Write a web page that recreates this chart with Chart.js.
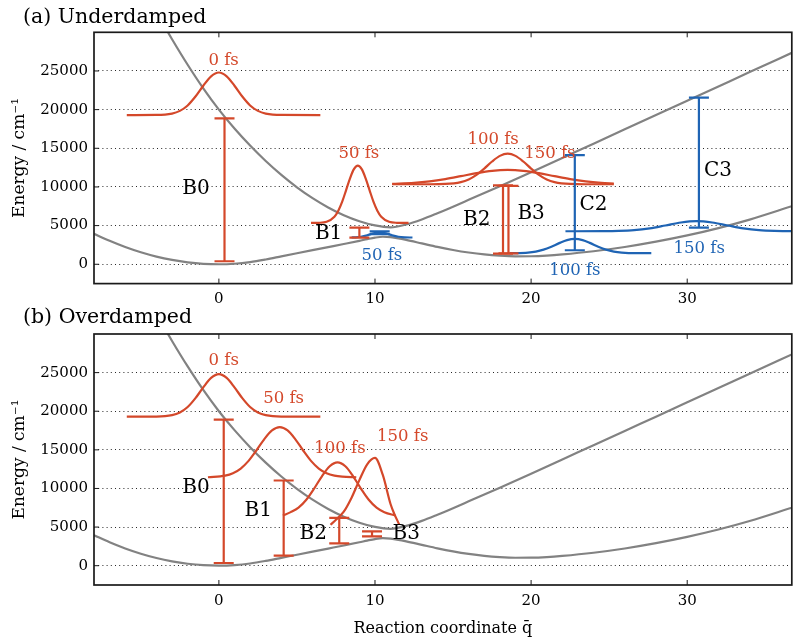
<!DOCTYPE html>
<html><head><meta charset="utf-8">
<script src="https://cdn.jsdelivr.net/npm/chart.js@4"></script>
<style>
html,body{margin:0;padding:0;background:#fff;width:804px;height:642px;overflow:hidden}
#ca{position:absolute;left:0;top:0}
#cb{position:absolute;left:0;top:300px}
</style></head><body>
<canvas id="ca" width="804" height="320"></canvas>
<canvas id="cb" width="804" height="342"></canvas>
<script>
// ---------- axes ----------
const X_MIN = -8, X_MAX = 36.7;
const Y_MIN = -2500, Y_MAX = 30000;
const xTicks = [0, 10, 20, 30];
const yTicks = [0, 5000, 10000, 15000, 20000, 25000];

// ---------- potential energy curves (q, E) ----------
const groundState = [[-8,3950],[-7,3030],[-6,2230],[-5,1550],[-4,990],[-3,560],[-2,250],[-1,62],[0,0],[1,70],[2,280],[3,620],[4,1020],[5,1420],[6,1820],[7,2220],[8,2620],[9,3030],[9.5,3250],[10,3450],[10.5,3560],[11,3500],[11.5,3350],[12,3150],[13,2700],[14,2250],[15,1850],[16,1520],[17,1270],[18,1110],[19,1030],[20,1040],[21,1120],[22,1270],[24,1680],[26,2230],[28,2920],[30,3730],[32,4680],[34,5780],[36.7,7500]];
const excitedState = [[-4,32600],[-3,29100],[-2,25800],[-1,22750],[0,20000],[1,17550],[2,15350],[3,13350],[4,11550],[5,9950],[6,8550],[7,7350],[8,6350],[9,5570],[10,5020],[11,4780],[12,5150],[13,5800],[14,6600],[15,7450],[16,8330],[18,10100],[20,11900],[22,13750],[24,15600],[26,17450],[28,19300],[30,21150],[32,23000],[34,24850],[36.7,27350]];

// ---------- panel (a) wave packets ----------
const a0fs = [[-5.9,19300],[-4,19310],[-3,19490],[-2.5,19840],[-2,20540],[-1.5,21690],[-1,23090],[-0.5,24310],[0,24800],[0.5,24310],[1,23090],[1.5,21690],[2,20540],[2.5,19840],[3,19490],[4,19310],[6.5,19300]];
const a50fsRed = [[5.9,5350],[6.4,5365],[6.9,5490],[7.4,6150],[7.65,6930],[7.9,8100],[8.15,9590],[8.4,11120],[8.65,12300],[8.9,12750],[9.15,12300],[9.4,11120],[9.65,9590],[9.9,8100],[10.15,6930],[10.4,6150],[10.9,5490],[11.4,5365],[12.15,5350]];
const a100fsRed = [[11.1,10350],[13.5,10350],[14.5,10385],[15.5,10630],[16,10970],[16.5,11560],[17,12380],[17.5,13290],[18,14020],[18.5,14300],[19,14020],[19.5,13290],[20,12380],[20.5,11560],[21,10970],[21.5,10630],[22.5,10385],[23.5,10350],[25.3,10350]];
const a150fsRed = [[11.1,10407],[12.5,10537],[13.5,10725],[14.5,11018],[15.5,11393],[16.5,11784],[17.5,12085],[18.5,12200],[19.5,12085],[20.5,11784],[21.5,11393],[22.5,11018],[23.5,10725],[24.5,10537],[25.3,10448]];
const a50fsBlue = [[8.5,3460],[8.7,3480],[9.1,3555],[9.5,3740],[9.9,4010],[10.3,4150],[10.7,4010],[11.1,3740],[11.5,3555],[11.9,3480],[12.4,3460]];
const a100fsBlue = [[18.65,1430],[19.8,1510],[20.3,1640],[20.8,1890],[21.3,2275],[21.8,2735],[22.3,3125],[22.8,3280],[23.3,3125],[23.8,2735],[24.3,2275],[24.8,1890],[25.3,1640],[25.8,1510],[26.8,1435],[27.7,1430]];
const a150fsBlue = [[22.2,4270],[24.6,4280],[25.6,4310],[26.6,4410],[27.6,4645],[28.6,5015],[29.6,5400],[30.6,5570],[31.6,5400],[32.6,5015],[33.6,4645],[34.6,4410],[35.6,4310],[36.7,4280]];

// ---------- panel (b) wave packets ----------
const b0fs = [[-5.9,19300],[-4,19310],[-3,19490],[-2.5,19840],[-2,20540],[-1.5,21690],[-1,23090],[-0.5,24310],[0,24800],[0.5,24310],[1,23090],[1.5,21690],[2,20540],[2.5,19840],[3,19490],[4,19310],[6.5,19300]];
const b50fs = [[-0.7,11450],[0.4,11665],[0.9,11975],[1.4,12580],[1.9,13575],[2.4,14915],[2.9,16365],[3.4,17515],[3.9,17950],[4.4,17515],[4.9,16365],[5.4,14915],[5.9,13575],[6.4,12580],[6.9,11975],[7.4,11665],[7.9,11525],[8.8,11450]];
const b100fs = [[4.1,6500],[4.6,6935],[5.1,7520],[5.6,8540],[6.1,9980],[6.6,11580],[7.1,12875],[7.6,13380],[8.1,12875],[8.6,11580],[9.1,9980],[9.6,8540],[10.1,7520],[10.6,6935],[11.3,6500]];
const b150fs = [[7.15,5300],[7.5,5960],[8.0,6990],[8.5,8800],[9.0,11080],[9.5,13120],[10.0,13950],[10.5,11750],[11.0,7960],[11.25,6650],[11.55,5350]];

// ---------- energy gaps (vertical bars) ----------
const aBarQ    = [0.36, 9.0, 10.3, 18.2, 18.55, 22.8, 30.75];
const aBarLow  = [390, 3450, 3900, 1380, 1400, 1810, 4750];
const aBarHigh = [18870, 4750, 4250, 10200, 10150, 14120, 21540];
const bBarQ    = [0.31, 4.15, 7.71, 9.81];
const bBarLow  = [350, 1300, 2900, 3800];
const bBarHigh = [18910, 11030, 6200, 4440];

// ---------- text labels ----------
const aLabelText = ['0 fs','50 fs','B0','B1','50 fs','100 fs','150 fs','B2','B3','C2','C3','100 fs','150 fs'];
const aLabelQ    = [0.3, 8.97, -1.47, 7.03, 10.44, 17.57, 21.2, 16.52, 20.0, 24.0, 31.97, 22.8, 30.77];
const aLabelE    = [26300, 14250, 9700, 3980, 1170, 16150, 14250, 5700, 6560, 7640, 12090, -870, 2030];
const bLabelText = ['0 fs','50 fs','100 fs','150 fs','B0','B1','B2','B3'];
const bLabelQ    = [0.31, 4.15, 7.76, 11.78, -1.47, 2.52, 6.04, 12.0];
const bLabelE    = [26550, 21630, 15150, 16750, 10060, 7170, 4100, 4100];

// ---------- styles ----------
const SERIF = "'DejaVu Serif', serif";
const RED = '#d4482a', BLUE = '#1f64b4', GRAY = '#828282', BLACK = '#000';
const LW = 2.2;
const aBarColor = [RED, RED, BLUE, RED, RED, BLUE, BLUE];
const bBarColor = [RED, RED, RED, RED];
const aLabelColor = [RED, RED, BLACK, BLACK, BLUE, RED, RED, BLACK, BLACK, BLACK, BLACK, BLUE, BLUE];
const bLabelColor = [RED, RED, RED, RED, BLACK, BLACK, BLACK, BLACK];

const pts = arr => arr.map(p => ({x: p[0], y: p[1]}));
function curve(arr, color, order) {
  return {data: pts(arr), showLine: true, borderColor: color, borderWidth: LW, pointRadius: 0,
          cubicInterpolationMode: 'monotone', fill: false, order: order};
}
function bars(qs, lo, hi, colors) {
  return qs.map((q, i) => ({
    data: [{x: q, y: lo[i]}, {x: q, y: hi[i]}], showLine: true, borderColor: colors[i], borderWidth: LW,
    pointStyle: 'line', pointRadius: 10, pointBorderWidth: LW, pointBorderColor: colors[i],
    pointBackgroundColor: colors[i], order: 1
  }));
}

function deco(title, titleY, texts, qs, es, colors) {
  return {
    id: 'deco',
    afterDatasetsDraw(chart) {
      const {ctx, chartArea: a, scales: {x, y}} = chart;
      ctx.save();
      ctx.strokeStyle = '#1a1a1a';
      ctx.lineWidth = 1;
      xTicks.forEach(v => {
        const px = x.getPixelForValue(v);
        ctx.beginPath();
        ctx.moveTo(px, a.bottom); ctx.lineTo(px, a.bottom - 5);
        ctx.moveTo(px, a.top); ctx.lineTo(px, a.top + 5);
        ctx.stroke();
      });
      yTicks.forEach(v => {
        const py = y.getPixelForValue(v);
        ctx.beginPath(); ctx.moveTo(a.left, py); ctx.lineTo(a.left + 5, py); ctx.stroke();
      });
      ctx.lineWidth = 1.7;
      ctx.strokeRect(a.left, a.top, a.right - a.left, a.bottom - a.top);
      ctx.textAlign = 'center'; ctx.textBaseline = 'middle';
      texts.forEach((t, i) => {
        ctx.font = (colors[i] === BLACK ? '20px ' : '16.5px ') + SERIF;
        ctx.fillStyle = colors[i];
        ctx.fillText(t, x.getPixelForValue(qs[i]), y.getPixelForValue(es[i]));
      });
      ctx.textAlign = 'left';
      ctx.font = '20.5px ' + SERIF; ctx.fillStyle = BLACK;
      ctx.fillText(title, 23, titleY);
      ctx.restore();
    }
  };
}

function makeChart(id, datasets, topPad, axisH, showXTitle, plugin) {
  return new Chart(document.getElementById(id), {
    type: 'scatter',
    data: {datasets: datasets},
    options: {
      responsive: false, animation: false, events: [],
      layout: {padding: {left: 0, right: 1, top: topPad, bottom: 0}},
      elements: {line: {capBezierPoints: false}},
      plugins: {legend: {display: false}, tooltip: {enabled: false}},
      scales: {
        x: {
          type: 'linear', min: X_MIN, max: X_MAX,
          afterBuildTicks: s => { s.ticks = xTicks.map(v => ({value: v})); },
          afterFit: s => { s.height = axisH; },
          grid: {display: false, drawTicks: false},
          border: {display: false},
          ticks: {padding: 7, color: BLACK, font: {family: SERIF, size: 15}, callback: v => String(v)},
          title: {display: showXTitle, text: 'Reaction coordinate q\u0304', color: BLACK,
                  font: {family: SERIF, size: 16}, padding: {top: 0, bottom: 4}}
        },
        y: {
          type: 'linear', min: Y_MIN, max: Y_MAX,
          afterBuildTicks: s => { s.ticks = yTicks.map(v => ({value: v})); },
          afterFit: s => { s.width = 94; },
          grid: {display: true, drawTicks: false, color: 'rgba(0,0,0,0.85)', lineWidth: 1},
          border: {display: false, dash: [1, 3.2]},
          ticks: {padding: 6, color: BLACK, font: {family: SERIF, size: 15}, callback: v => String(v)},
          title: {display: true, text: 'Energy / cm\u207B\u00B9', color: BLACK,
                  font: {family: SERIF, size: 17}, padding: {top: 9, bottom: 0}}
        }
      }
    },
    plugins: [plugin]
  });
}

const aSets = [
  curve(excitedState, GRAY, 5), curve(groundState, GRAY, 5),
  curve(a0fs, RED, 3), curve(a50fsRed, RED, 3), curve(a100fsRed, RED, 3), curve(a150fsRed, RED, 3),
  curve(a50fsBlue, BLUE, 3), curve(a100fsBlue, BLUE, 3), curve(a150fsBlue, BLUE, 3)
].concat(bars(aBarQ, aBarLow, aBarHigh, aBarColor));

const bSets = [
  curve(excitedState, GRAY, 5), curve(groundState, GRAY, 5),
  curve(b0fs, RED, 3), curve(b50fs, RED, 3), curve(b100fs, RED, 3), curve(b150fs, RED, 3)
].concat(bars(bBarQ, bBarLow, bBarHigh, bBarColor));

makeChart('ca', aSets, 32.3, 36.4, false,
  deco('(a) Underdamped', 17.5, aLabelText, aLabelQ, aLabelE, aLabelColor));
makeChart('cb', bSets, 34, 57, true,
  deco('(b) Overdamped', 18, bLabelText, bLabelQ, bLabelE, bLabelColor));
</script>
</body></html>
